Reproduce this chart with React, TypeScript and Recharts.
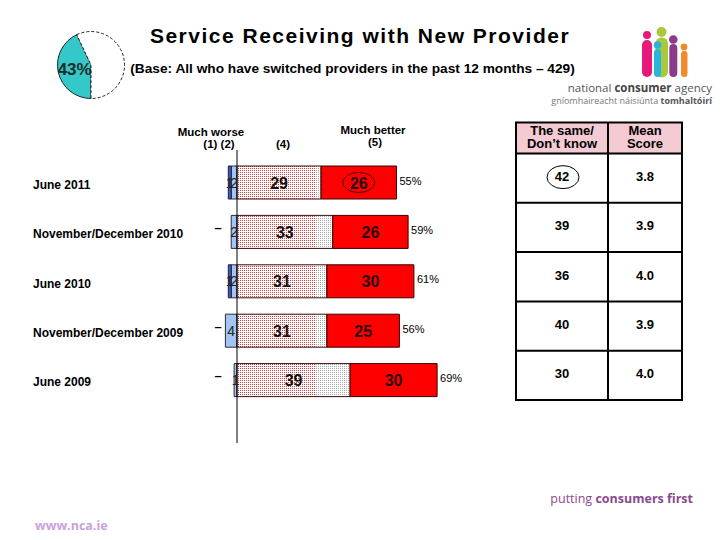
import React from "react";
import {
  BarChart,
  Bar,
  XAxis,
  YAxis,
  LabelList,
  ReferenceLine,
  PieChart,
  Pie,
  Cell,
} from "recharts";

// survey waves, newest first (top row)
const periods = [
  "June 2011",
  "November/December 2010",
  "June 2010",
  "November/December 2009",
  "June 2009",
];
const muchWorse = [1, 0, 1, 0, 0]; // (1)
const worse = [2, 2, 2, 4, 1]; // (2)
const better = [29, 33, 31, 31, 39]; // (4)
const muchBetter = [26, 26, 30, 25, 30]; // (5)
const totalBetter = [55, 59, 61, 56, 69];
const sameDontKnow = [42, 39, 36, 40, 30];
const meanScore = ["3.8", "3.9", "4.0", "3.9", "4.0"];
const switchedShare = [43, 57];
const highlightRow = 0;

const data = periods.map((period, i) => ({
  period,
  worse: -worse[i],
  muchWorse: -muchWorse[i],
  noMuchWorse: muchWorse[i] === 0 ? 1 : 0,
  better: better[i],
  muchBetter: muchBetter[i],
  total: totalBetter[i],
  circled: i === highlightRow ? 1 : 0,
}));

const pieData = switchedShare.map((value, i) => ({ name: i === 0 ? "switched" : "rest", value }));

const FONT = "'Liberation Sans', Arial, sans-serif";
const LOGO_FONT = "'Open Sans', 'Noto Sans', sans-serif";
const labelLeft = 33;
const patternSplit = 315;

const box = (p: any) => {
  const vb = p.viewBox && p.viewBox.width !== undefined ? p.viewBox : p;
  return { x: Number(vb.x), y: Number(vb.y), width: Number(vb.width), height: Number(vb.height) };
};

const PeriodTick = (props: any) => (
  <text x={labelLeft} y={props.y} dy={6} fontSize={12} fontWeight="bold" fill="#000" fontFamily={FONT}>
    {props.payload.value}
  </text>
);

const BlueLabel = (props: any) => {
  const { x, y, width, height } = box(props);
  const v = Math.abs(Number(props.value));
  if (!v) return null;
  return (
    <text x={x + width / 2} y={y + height / 2 + 5} textAnchor="middle" fontSize={14} fill="#222" fontFamily={FONT}>
      {v}
    </text>
  );
};

// "–" marker where nobody answered (1)
const DashLabel = (props: any) => {
  if (!Number(props.value)) return null;
  const { x, y, width, height } = box(props);
  const zero = Math.max(x, x + width);
  return (
    <text x={zero - 19} y={y + height / 2} textAnchor="middle" fontSize={13} fontWeight="bold" fill="#000" fontFamily={FONT}>
      –
    </text>
  );
};

const BigLabel = (color: string) => (props: any) => {
  const { x, y, width, height } = box(props);
  return (
    <text
      x={x + width / 2}
      y={y + height / 2 + 6}
      textAnchor="middle"
      fontSize={16}
      fontWeight="bold"
      fill={color}
      fontFamily={FONT}
    >
      {props.value}
    </text>
  );
};

const CircleMark = (props: any) => {
  if (!Number(props.value)) return null;
  const { x, y, width, height } = box(props);
  return (
    <ellipse cx={x + width / 2} cy={y + height / 2} rx={16} ry={10} fill="none" stroke="#4a0000" strokeWidth={1} />
  );
};

const TotalLabel = (props: any) => {
  const { x, y, width, height } = box(props);
  return (
    <text x={x + width + 3} y={y + height / 2 + 2} fontSize={11} fill="#000" fontFamily={FONT}>
      {props.value}%
    </text>
  );
};

const RAD = Math.PI / 180;
const PieLabel = (p: any) => {
  if (p.index !== 0) return null;
  const r = p.outerRadius * 0.5;
  const x = p.cx + r * Math.cos(-p.midAngle * RAD);
  const y = p.cy + r * Math.sin(-p.midAngle * RAD);
  return (
    <text x={x} y={y + 6} textAnchor="middle" fontSize={17} fontWeight="bold" fill="#1c2b2b" fontFamily={FONT}>
      {p.value}%
    </text>
  );
};

const tableX = 516;
const tableY = 122.5;
const colW = [92, 74];
const headH = 31;
const rowH = 49.3;

const Overlay = () => (
  <svg width={720} height={540} style={{ position: "absolute", left: 0, top: 0, pointerEvents: "none" }}>
    <text x={360} y={43} textAnchor="middle" fontSize={21} fontWeight="bold" letterSpacing={1.5} fontFamily={FONT}>
      Service Receiving with New Provider
    </text>
    <text x={352.5} y={73} textAnchor="middle" fontSize={13.7} fontWeight="bold" fontFamily={FONT}>
      (Base: All who have switched providers in the past 12 months – 429)
    </text>

    <g fontSize={11.5} fontWeight="bold" fontFamily={FONT} textAnchor="middle">
      <text x={211} y={136}>Much worse</text>
      <text x={219} y={148}>(1) (2)</text>
      <text x={283} y={148}>(4)</text>
      <text x={373} y={134}>Much better</text>
      <text x={375} y={146}>(5)</text>
    </g>

    {/* right-hand table */}
    <rect x={tableX} y={tableY} width={colW[0] + colW[1]} height={headH} fill="#f4cad3" />
    <rect
      x={tableX}
      y={tableY}
      width={colW[0] + colW[1]}
      height={headH + rowH * periods.length}
      fill="none"
      stroke="#000"
      strokeWidth={2}
    />
    <line x1={tableX + colW[0]} x2={tableX + colW[0]} y1={tableY} y2={tableY + headH + rowH * periods.length} stroke="#000" strokeWidth={2} />
    {periods.map((_, i) => (
      <line
        key={i}
        x1={tableX}
        x2={tableX + colW[0] + colW[1]}
        y1={tableY + headH + rowH * i}
        y2={tableY + headH + rowH * i}
        stroke="#000"
        strokeWidth={2}
      />
    ))}
    <g fontSize={13} fontWeight="bold" fontFamily={FONT} textAnchor="middle">
      <text x={tableX + colW[0] / 2} y={135}>The same/</text>
      <text x={tableX + colW[0] / 2} y={148}>Don’t know</text>
      <text x={tableX + colW[0] + colW[1] / 2} y={135}>Mean</text>
      <text x={tableX + colW[0] + colW[1] / 2} y={148}>Score</text>
    </g>
    <g fontSize={13} fontWeight="bold" fontFamily={FONT} textAnchor="middle">
      {sameDontKnow.map((v, i) => (
        <text key={i} x={tableX + colW[0] / 2} y={tableY + headH + rowH * i + rowH / 2 + 3}>
          {v}
        </text>
      ))}
      {meanScore.map((v, i) => (
        <text key={i} x={tableX + colW[0] + colW[1] / 2} y={tableY + headH + rowH * i + rowH / 2 + 3}>
          {v}
        </text>
      ))}
    </g>
    <ellipse
      cx={tableX + colW[0] / 2 + 1}
      cy={tableY + headH + rowH * highlightRow + rowH / 2 - 1}
      rx={16}
      ry={11.5}
      fill="none"
      stroke="#000"
    />

    {/* logo */}
    <g>
      <circle cx={647} cy={35} r={4} fill="#e6197a" />
      <rect x={642} y={40} width={10} height={37} rx={5} fill="#e6197a" />
      <circle cx={661.5} cy={32} r={5} fill="#a9c83b" />
      <rect x={655.5} y={37.5} width={12.5} height={40} rx={6} fill="#a9c83b" />
      <circle cx={657.5} cy={45} r={3.8} fill="#2bb3e0" />
      <rect x={654} y={49} width={7} height={28} rx={3.5} fill="#2bb3e0" />
      <circle cx={673.3} cy={39.5} r={4.3} fill="#8c3a8c" />
      <rect x={669.3} y={44} width={8} height={33} rx={4} fill="#8c3a8c" />
      <circle cx={684} cy={47} r={3.4} fill="#f08a2c" />
      <rect x={681} y={51} width={6.5} height={26} rx={3.2} fill="#f08a2c" />
    </g>
    <text x={712} y={92} textAnchor="end" fontSize={11.5} fill="#555" fontFamily={LOGO_FONT}>
      national <tspan fontWeight="bold" fill="#444">consumer</tspan> agency
    </text>
    <text x={712} y={104} textAnchor="end" fontSize={9} fill="#777" fontFamily={LOGO_FONT}>
      gníomhaireacht náisiúnta <tspan fontWeight="bold" fill="#555">tomhaltóirí</tspan>
    </text>

    {/* footer */}
    <text x={693} y={503} textAnchor="end" fontSize={12.5} fill="#8a4a8e" fontFamily={LOGO_FONT}>
      putting <tspan fontWeight="bold">consumers first</tspan>
    </text>
    <text x={35} y={530} fontSize={12.5} fontWeight="bold" fill="#c9a2dc" fontFamily={LOGO_FONT}>
      www.nca.ie
    </text>
  </svg>
);

export default function App() {
  return (
    <div style={{ position: "absolute", left: 0, top: 0, width: 720, height: 540, background: "#fff", overflow: "hidden" }}>
      <div style={{ position: "absolute", left: 0, top: 0 }}>
        <BarChart
          width={720}
          height={540}
          data={data}
          layout="vertical"
          stackOffset="sign"
          margin={{ top: 150, right: 251, bottom: 97, left: labelLeft }}
          barSize={33}
        >
          <defs>
            <pattern id="pinkDots" patternUnits="userSpaceOnUse" width={2} height={2}>
              <rect width={2} height={2} fill="#fff" />
              <rect width={1} height={1} fill="#dd3b3b" />
            </pattern>
            <pattern id="greyDots" patternUnits="userSpaceOnUse" width={2} height={2}>
              <rect width={2} height={2} fill="#fff" />
              <rect width={1} height={1} fill="#a8a8a8" />
            </pattern>
            <pattern id="betterFill" patternUnits="userSpaceOnUse" x={0} y={0} width={720} height={540}>
              <rect x={0} y={0} width={patternSplit} height={540} fill="url(#pinkDots)" />
              <rect x={patternSplit} y={0} width={720 - patternSplit} height={540} fill="url(#greyDots)" />
            </pattern>
          </defs>
          <XAxis type="number" domain={[-10, 80]} hide />
          <YAxis
            type="category"
            dataKey="period"
            width={175}
            axisLine={false}
            tickLine={false}
            padding={{ top: 8, bottom: 38 }}
            tick={<PeriodTick />}
            interval={0}
          />
          <Bar dataKey="worse" stackId="s" fill="#a3c6f0" stroke="#2a2a40" strokeWidth={1} isAnimationActive={false}>
            <LabelList dataKey="worse" content={<BlueLabel />} />
            <LabelList dataKey="noMuchWorse" content={<DashLabel />} />
          </Bar>
          <Bar dataKey="muchWorse" stackId="s" fill="#3d5fc2" stroke="#1c1c40" strokeWidth={1} isAnimationActive={false}>
            <LabelList dataKey="muchWorse" content={<BlueLabel />} />
          </Bar>
          <Bar dataKey="better" stackId="s" fill="url(#betterFill)" stroke="#3a1010" strokeWidth={1} isAnimationActive={false}>
            <LabelList dataKey="better" content={BigLabel("#111")} />
          </Bar>
          <Bar dataKey="muchBetter" stackId="s" fill="#ff0000" stroke="#3a0000" strokeWidth={1} isAnimationActive={false}>
            <LabelList dataKey="circled" content={<CircleMark />} />
            <LabelList dataKey="muchBetter" content={BigLabel("#2a0505")} />
            <LabelList dataKey="total" content={<TotalLabel />} />
          </Bar>
          <ReferenceLine x={0} stroke="#000" strokeWidth={1} />
        </BarChart>
      </div>
      <div style={{ position: "absolute", left: 55, top: 28.5 }}>
        <PieChart width={72} height={72} margin={{ top: 0, right: 0, bottom: 0, left: 0 }}>
          <Pie
            data={pieData}
            dataKey="value"
            cx={36}
            cy={36}
            outerRadius={33.5}
            startAngle={270}
            endAngle={-90}
            label={PieLabel}
            labelLine={false}
            isAnimationActive={false}
          >
            <Cell fill="#35c8c8" stroke="#1a2a2a" strokeWidth={1} />
            <Cell fill="#ffffff" stroke="#222" strokeWidth={1} strokeDasharray="3 2" />
          </Pie>
        </PieChart>
      </div>
      <Overlay />
    </div>
  );
}
